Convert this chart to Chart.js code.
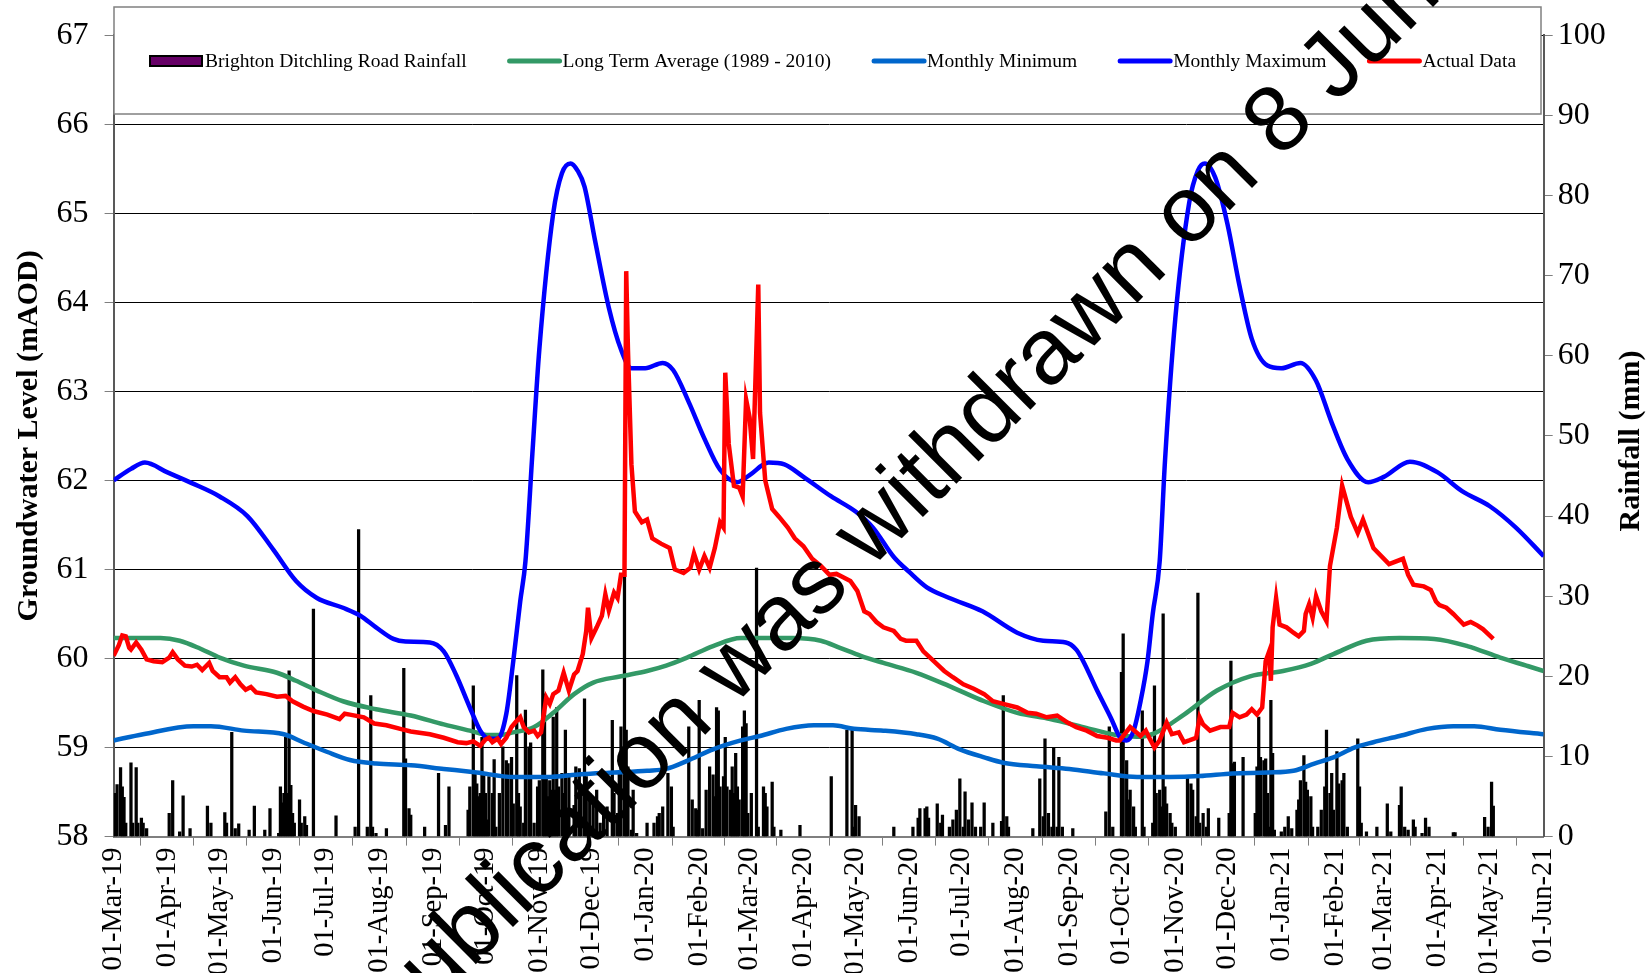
<!DOCTYPE html>
<html>
<head>
<meta charset="utf-8">
<script src="https://cdn.jsdelivr.net/npm/chart.js@4.4.1/dist/chart.umd.min.js"></script>
<style>
  html, body { margin: 0; padding: 0; background: #fff; }
  #wrap { position: relative; width: 1650px; height: 973px; }
</style>
</head>
<body>
<div id="wrap"><canvas id="gwChart"></canvas></div>
<script>
// all x values are days counted from 01-Mar-2019
const START = Date.UTC(2019, 2, 1);

const tickLabels = [
  "01-Mar-19", "01-Apr-19", "01-May-19", "01-Jun-19", "01-Jul-19", "01-Aug-19", "01-Sep-19",
  "01-Oct-19", "01-Nov-19", "01-Dec-19", "01-Jan-20", "01-Feb-20", "01-Mar-20", "01-Apr-20",
  "01-May-20", "01-Jun-20", "01-Jul-20", "01-Aug-20", "01-Sep-20", "01-Oct-20", "01-Nov-20",
  "01-Dec-20", "01-Jan-21", "01-Feb-21", "01-Mar-21", "01-Apr-21", "01-May-21", "01-Jun-21"
];

// Monthly Maximum
const maxDay = [0, 10, 18, 31, 45, 61, 77, 92, 105, 117, 132, 142, 151, 161, 168, 182, 190, 197, 205,
  211, 216, 221, 226, 230, 234, 237, 241, 245, 253, 258, 263, 267, 271, 277, 285, 292, 298, 306, 316,
  322, 331, 340, 349, 359, 366, 377, 386, 397, 413, 427, 437, 449, 458, 468, 481, 500, 520, 535, 548,
  554, 558, 566, 574, 579, 583, 587, 591, 595, 598, 602, 605, 611, 619, 624, 628, 634, 641, 648, 655,
  664, 672, 683, 692, 701, 710, 722, 731, 746, 762, 776, 792, 807, 823];
const maxLevel = [62.0, 62.13, 62.2, 62.09, 61.97, 61.82, 61.6, 61.22, 60.87, 60.68, 60.57, 60.48, 60.35, 60.22, 60.19, 60.18, 60.08, 59.82, 59.45,
  59.19, 59.1, 59.1, 59.38, 59.97, 60.64, 61.09, 62.3, 63.47, 65.0, 65.45, 65.56, 65.48, 65.3, 64.7, 63.94, 63.47, 63.26, 63.26, 63.32,
  63.24, 62.88, 62.47, 62.12, 61.98, 62.06, 62.2, 62.18, 62.04, 61.82, 61.65, 61.47, 61.14, 60.97, 60.8, 60.68, 60.53, 60.29, 60.2, 60.18,
  60.1, 59.97, 59.64, 59.33, 59.12, 59.08, 59.19, 59.52, 59.97, 60.5, 61.09, 62.2, 63.82, 65.12, 65.48, 65.56, 65.4, 64.88, 64.18, 63.59,
  63.29, 63.26, 63.32, 63.12, 62.65, 62.24, 61.98, 62.04, 62.21, 62.09, 61.88, 61.71, 61.47, 61.15];

// Monthly Minimum
const minDay = [0, 17, 46, 56, 75, 98, 109, 123, 136, 151, 171, 190, 209, 230, 249, 269, 288, 307, 318, 330,
  345, 361, 372, 387, 403, 414, 426, 443, 462, 474, 487, 501, 512, 531, 550, 570, 589, 608, 625, 644,
  664, 679, 691, 702, 714, 725, 740, 756, 771, 783, 798, 823];
const minLevel = [59.08, 59.15, 59.24, 59.24, 59.19, 59.15, 59.06, 58.95, 58.86, 58.82, 58.8, 58.76, 58.72, 58.67, 58.67, 58.7, 58.72, 58.74, 58.76, 58.85,
  58.98, 59.08, 59.13, 59.21, 59.25, 59.25, 59.21, 59.19, 59.15, 59.1, 58.98, 58.89, 58.83, 58.79, 58.76, 58.71, 58.67, 58.67, 58.68, 58.71,
  58.72, 58.74, 58.82, 58.89, 59.0, 59.06, 59.13, 59.21, 59.24, 59.24, 59.2, 59.15];

// Long Term Average (1989 - 2010)
const avgDay = [0, 27, 38, 50, 61, 75, 94, 105, 117, 132, 151, 171, 190, 205, 216, 222, 230, 242, 253, 265,
  276, 292, 307, 318, 330, 345, 361, 372, 391, 407, 418, 430, 443, 462, 481, 501, 520, 539, 558, 577,
  589, 599, 616, 635, 654, 673, 689, 702, 721, 740, 760, 779, 798, 813, 823];
const avgLevel = [60.23, 60.23, 60.2, 60.11, 60.01, 59.92, 59.84, 59.75, 59.64, 59.52, 59.43, 59.36, 59.26, 59.19, 59.14, 59.14, 59.17, 59.23, 59.39, 59.6,
  59.73, 59.8, 59.86, 59.92, 60.01, 60.14, 60.23, 60.23, 60.23, 60.2, 60.12, 60.03, 59.95, 59.84, 59.69, 59.52, 59.39, 59.32, 59.23, 59.14,
  59.12, 59.16, 59.37, 59.64, 59.8, 59.86, 59.94, 60.05, 60.2, 60.23, 60.22, 60.14, 60.01, 59.92, 59.86];

// Actual Data
const actualDay = [0, 3, 5, 7, 9, 10, 13, 16, 19, 23, 28, 32, 34, 37, 41, 45, 48, 51, 55, 57,
  61, 65, 67, 70, 73, 76, 79, 82, 88, 94, 99, 103, 109, 115, 123, 130, 133, 136, 144, 150,
  157, 165, 171, 182, 190, 198, 203, 207, 211, 214, 216, 218, 221, 223, 226, 229, 232, 234, 236, 239,
  242, 244, 246, 249, 251, 253, 256, 259, 262, 265, 267, 270, 272, 273, 275, 278, 281, 283, 285, 288,
  290, 292, 294, 295, 296, 298, 300, 304, 307, 310, 315, 320, 323, 328, 332, 334, 337, 340, 343, 346,
  349, 351, 352, 354, 357, 360, 362, 364, 366, 368, 369, 371, 372, 375, 379, 383, 388, 392, 397, 402,
  407, 412, 416, 419, 424, 428, 432, 435, 439, 443, 449, 453, 456, 462, 466, 472, 478, 483, 489, 495,
  501, 506, 512, 520, 526, 531, 537, 543, 549, 554, 560, 566, 572, 577, 579, 585, 591, 594, 596, 599,
  602, 606, 609, 613, 616, 619, 623, 625, 627, 631, 637, 642, 644, 648, 652, 655, 658, 661, 663, 665,
  666, 667, 669, 671, 675, 679, 682, 685, 686, 688, 690, 692, 695, 698, 700, 704, 707, 712, 716, 719,
  725, 734, 742, 745, 748, 754, 758, 761, 763, 767, 771, 773, 777, 781, 785, 788, 794];
const actualLevel = [60.03, 60.15, 60.26, 60.25, 60.12, 60.10, 60.18, 60.10, 59.99, 59.97, 59.96, 60.01, 60.07, 59.99, 59.92, 59.91, 59.93, 59.87, 59.95, 59.86,
  59.79, 59.79, 59.73, 59.79, 59.71, 59.65, 59.68, 59.62, 59.60, 59.57, 59.58, 59.52, 59.46, 59.41, 59.37, 59.32, 59.38, 59.37, 59.34, 59.27,
  59.25, 59.21, 59.18, 59.15, 59.11, 59.06, 59.05, 59.07, 59.02, 59.09, 59.11, 59.06, 59.10, 59.04, 59.11, 59.23, 59.30, 59.34, 59.23, 59.17,
  59.19, 59.13, 59.17, 59.56, 59.49, 59.60, 59.64, 59.84, 59.64, 59.82, 59.86, 60.05, 60.31, 60.57, 60.23, 60.35, 60.48, 60.72, 60.54, 60.74,
  60.68, 60.94, 60.94, 64.35, 63.47, 62.18, 61.65, 61.53, 61.56, 61.35, 61.29, 61.24, 61.0, 60.96, 61.02, 61.18, 61.0, 61.15, 61.02, 61.24,
  61.53, 61.47, 63.21, 62.41, 61.94, 61.92, 61.82, 62.91, 62.71, 62.24, 62.88, 64.2, 62.76, 62.0, 61.68, 61.59, 61.47, 61.35, 61.26, 61.12,
  61.04, 60.94, 60.95, 60.92, 60.87, 60.76, 60.53, 60.50, 60.41, 60.35, 60.31, 60.22, 60.20, 60.20, 60.08, 59.97, 59.86, 59.79, 59.71, 59.66,
  59.60, 59.52, 59.49, 59.45, 59.39, 59.38, 59.34, 59.36, 59.28, 59.23, 59.19, 59.13, 59.11, 59.08, 59.08, 59.23, 59.13, 59.19, 59.11, 59.0,
  59.08, 59.28, 59.15, 59.17, 59.06, 59.08, 59.11, 59.34, 59.26, 59.19, 59.23, 59.23, 59.39, 59.34, 59.37, 59.43, 59.37, 59.45, 59.97, 60.08,
  59.75, 60.35, 60.68, 60.38, 60.35, 60.29, 60.25, 60.31, 60.50, 60.61, 60.46, 60.70, 60.53, 60.42, 61.04, 61.47, 61.94, 61.59, 61.41, 61.56,
  61.24, 61.06, 61.12, 60.94, 60.83, 60.81, 60.77, 60.64, 60.60, 60.57, 60.50, 60.46, 60.38, 60.41, 60.37, 60.33, 60.22];

// Brighton Ditchling Road Rainfall (mm), rain days only
const rainDay = [1, 2, 4, 5, 6, 7, 10, 11, 13, 14, 16, 17, 19, 32, 34, 38, 40, 44, 54, 56,
  64, 65, 68, 70, 72, 78, 81, 87, 90, 95, 96, 97, 98, 99, 100, 101, 102, 103, 104, 107,
  108, 110, 111, 115, 128, 139, 141, 146, 148, 149, 151, 157, 167, 168, 170, 171, 179, 187, 191, 193,
  204, 205, 207, 208, 209, 210, 211, 212, 213, 214, 215, 216, 218, 219, 220, 222, 224, 226, 227, 229,
  230, 232, 233, 234, 236, 237, 239, 240, 242, 244, 245, 247, 248, 249, 250, 251, 252, 253, 254, 255,
  256, 258, 259, 260, 261, 262, 265, 266, 268, 269, 271, 272, 274, 276, 278, 280, 282, 284, 287, 288,
  290, 291, 292, 294, 295, 296, 298, 299, 301, 307, 311, 313, 314, 316, 319, 321, 322, 331, 333, 335,
  336, 337, 339, 341, 343, 345, 346, 347, 348, 349, 351, 352, 353, 355, 356, 357, 358, 359, 360, 362,
  363, 364, 365, 367, 370, 371, 374, 375, 376, 379, 380, 384, 395, 413, 422, 425, 426, 427, 429, 449,
  460, 463, 464, 467, 468, 469, 474, 476, 477, 481, 483, 485, 487, 489, 490, 492, 494, 496, 499, 501,
  506, 511, 512, 514, 515, 529, 533, 535, 536, 538, 540, 541, 543, 544, 546, 552, 571, 573, 575, 580,
  581, 583, 584, 585, 587, 588, 592, 593, 598, 599, 600, 602, 603, 604, 605, 606, 608, 609, 611, 618,
  620, 621, 623, 624, 625, 627, 629, 630, 636, 642, 643, 644, 645, 650, 657, 658, 659, 660, 662, 663,
  664, 665, 666, 667, 668, 672, 674, 676, 678, 681, 682, 683, 685, 686, 687, 689, 690, 693, 695, 697,
  698, 700, 701, 702, 704, 705, 707, 708, 710, 716, 717, 718, 721, 727, 733, 735, 740, 741, 743, 745,
  748, 749, 753, 755, 757, 771, 772, 789, 791, 793, 794];
const rainMm = [5.4, 6.5, 8.6, 6.2, 4.9, 1.7, 9.2, 1.7, 8.6, 1.7, 2.3, 1.7, 1.0, 2.9, 7.0, 0.6, 5.1, 1.0, 3.8, 1.7,
  3.0, 1.7, 13.0, 1.0, 1.6, 0.8, 3.8, 0.8, 3.5, 0.4, 6.2, 4.2, 5.4, 12.4, 5.4, 20.7, 6.4, 2.9, 1.7, 4.6,
  1.7, 2.5, 1.4, 28.4, 2.6, 1.2, 38.3, 1.2, 17.6, 1.2, 0.4, 1.0, 21.0, 9.7, 3.5, 2.7, 1.2, 7.9, 1.4, 6.2,
  3.3, 6.2, 18.8, 7.9, 6.6, 5.0, 5.4, 12.4, 7.9, 5.4, 2.1, 7.5, 5.4, 9.6, 1.2, 5.4, 11.2, 9.5, 9.1, 9.9,
  4.1, 20.1, 5.4, 3.7, 1.7, 15.8, 11.2, 11.7, 1.7, 6.2, 7.0, 20.8, 17.8, 7.5, 5.0, 7.0, 5.8, 14.9, 5.8, 16.1,
  6.2, 7.9, 5.4, 13.3, 2.9, 7.9, 3.9, 8.7, 8.5, 5.4, 17.2, 7.5, 5.4, 4.1, 5.8, 1.7, 2.9, 3.7, 14.5, 5.4,
  2.9, 7.9, 13.7, 32.7, 13.3, 8.7, 0.8, 5.8, 0.4, 1.7, 1.7, 2.5, 2.9, 3.7, 7.9, 6.2, 1.2, 13.7, 4.6, 3.5,
  3.3, 17.0, 1.0, 5.8, 8.7, 7.7, 5.0, 16.1, 15.7, 6.2, 7.5, 12.4, 6.2, 5.8, 8.7, 5.4, 10.4, 6.2, 4.6, 13.7,
  15.7, 14.1, 2.9, 5.4, 33.5, 1.2, 6.2, 5.4, 3.7, 6.8, 1.2, 0.8, 1.4, 7.5, 13.3, 13.3, 1.2, 3.9, 2.5, 1.2,
  1.2, 2.3, 3.5, 3.5, 3.7, 2.3, 4.1, 1.7, 2.7, 1.2, 2.1, 3.3, 7.2, 1.2, 5.6, 2.1, 4.2, 1.2, 1.2, 4.2,
  1.7, 1.9, 17.6, 2.5, 1.2, 1.0, 7.2, 2.5, 12.2, 2.9, 1.2, 11.0, 1.2, 9.9, 1.2, 1.0, 3.1, 13.7, 1.2, 20.5,
  25.3, 9.5, 4.6, 5.8, 3.7, 1.2, 15.7, 1.2, 1.7, 18.8, 5.4, 5.8, 3.7, 27.8, 6.2, 4.1, 2.9, 1.7, 1.2, 7.5,
  6.6, 5.8, 2.5, 30.4, 1.7, 2.9, 1.2, 3.5, 2.3, 2.9, 21.9, 9.1, 9.3, 9.9, 2.9, 8.7, 14.9, 9.9, 9.5, 9.7,
  5.4, 1.2, 17.0, 10.4, 0.8, 0.6, 1.2, 2.5, 1.0, 3.3, 4.6, 7.0, 10.1, 6.8, 5.8, 5.0, 1.2, 1.2, 3.3, 6.2,
  13.3, 5.4, 7.9, 3.3, 10.6, 6.6, 7.0, 7.9, 1.2, 12.2, 6.2, 1.7, 0.6, 1.2, 4.1, 0.6, 3.9, 6.2, 1.2, 0.8,
  2.1, 1.2, 0.4, 2.3, 1.2, 0.5, 0.5, 2.4, 1.2, 6.8, 3.8];

const MONTHS = ["Jan", "Feb", "Mar", "Apr", "May", "Jun", "Jul", "Aug", "Sep", "Oct", "Nov", "Dec"];
function labelToDay(lbl) {
  const p = lbl.split("-");
  const t = Date.UTC(2000 + Number(p[2]), MONTHS.indexOf(p[1]), Number(p[0]));
  return Math.round((t - START) / 86400000);
}
const tickDays = tickLabels.map(labelToDay);
const pts = (xs, ys) => xs.map((x, i) => ({ x: x, y: ys[i] }));

const SERIF = '"Liberation Serif", "Times New Roman", serif';

// legend drawn as a framed box across the top of the plot, like the original
const legendBox = {
  id: "legendBox",
  afterDatasetsDraw(chart) {
    const ctx = chart.ctx;
    ctx.save();
    ctx.fillStyle = "#fff";
    ctx.strokeStyle = "#808080";
    ctx.lineWidth = 1.5;
    ctx.fillRect(114, 7, 1427, 107);
    ctx.strokeRect(114, 7, 1427, 107);
    ctx.font = "19.5px " + SERIF;
    ctx.textBaseline = "middle";
    let x = 150;
    const y = 61;
    chart.data.datasets.forEach(ds => {
      if (ds.type === "bar") {
        // the thin bars read as black, the legend key shows their purple fill
        ctx.fillStyle = ds.legendFill;
        ctx.fillRect(x, y - 5, 52, 10);
        ctx.strokeStyle = "#000";
        ctx.lineWidth = 2;
        ctx.strokeRect(x, y - 5, 52, 10);
      } else {
        ctx.strokeStyle = ds.borderColor;
        ctx.lineWidth = 5;
        ctx.lineCap = "round";
        ctx.beginPath();
        ctx.moveTo(x + 2, y);
        ctx.lineTo(x + 52, y);
        ctx.stroke();
      }
      x += 55;
      ctx.fillStyle = "#000";
      ctx.fillText(ds.label, x, y + 1);
      x += ctx.measureText(ds.label).width + 41;
    });
    ctx.restore();
  },
  afterDraw(chart) {
    const ctx = chart.ctx;
    ctx.save();
    // right-hand axis title, reading bottom to top
    ctx.font = "bold 30px " + SERIF;
    ctx.fillStyle = "#000";
    ctx.textAlign = "center";
    ctx.textBaseline = "middle";
    ctx.translate(1631, 441);
    ctx.rotate(-Math.PI / 2);
    ctx.fillText("Rainfall (mm)", 0, 0);
    ctx.restore();

    // withdrawn stamp over the whole figure
    ctx.save();
    ctx.font = '94px "Liberation Sans", Arial, sans-serif';
    ctx.fillStyle = "#000";
    ctx.textAlign = "center";
    ctx.textBaseline = "alphabetic";
    ctx.translate(950, 490);
    ctx.rotate(-Math.PI / 4);
    ctx.fillText("This publication was withdrawn on 8 June 2021", 0, 0);
    ctx.restore();
  }
};

new Chart(document.getElementById("gwChart"), {
  type: "bar",
  data: {
    datasets: [
      {
        type: "bar",
        label: "Brighton Ditchling Road Rainfall",
        data: pts(rainDay, rainMm),
        yAxisID: "y2",
        backgroundColor: "#000",
        legendFill: "#660066",
        borderWidth: 0,
        barThickness: 2.6,
        order: 10
      },
      {
        type: "line",
        label: "Long Term Average (1989 - 2010)",
        data: pts(avgDay, avgLevel),
        yAxisID: "y",
        borderColor: "#339966",
        borderWidth: 4.5,
        pointRadius: 0,
        cubicInterpolationMode: "monotone",
        order: 4
      },
      {
        type: "line",
        label: "Monthly Minimum",
        data: pts(minDay, minLevel),
        yAxisID: "y",
        borderColor: "#0066CC",
        borderWidth: 4.5,
        pointRadius: 0,
        cubicInterpolationMode: "monotone",
        order: 3
      },
      {
        type: "line",
        label: "Monthly Maximum",
        data: pts(maxDay, maxLevel),
        yAxisID: "y",
        borderColor: "#0000FF",
        borderWidth: 4.5,
        pointRadius: 0,
        cubicInterpolationMode: "monotone",
        order: 2
      },
      {
        type: "line",
        label: "Actual Data",
        data: pts(actualDay, actualLevel),
        yAxisID: "y",
        borderColor: "#FF0000",
        borderWidth: 4.5,
        pointRadius: 0,
        tension: 0,
        order: 1
      }
    ]
  },
  options: {
    responsive: true,
    maintainAspectRatio: false,
    animation: false,
    layout: { padding: { top: 31.6, left: 0, right: 0, bottom: 0 } },
    plugins: {
      legend: { display: false },
      tooltip: { enabled: false }
    },
    scales: {
      x: {
        type: "linear",
        min: 0,
        max: 823,
        offset: false,
        afterBuildTicks: (scale) => { scale.ticks = tickDays.map(v => ({ value: v })); },
        afterFit: (scale) => { scale.height = 136.4; },
        ticks: {
          autoSkip: false,
          minRotation: 90,
          maxRotation: 90,
          padding: 2,
          color: "#000",
          font: { family: SERIF, size: 28.5 },
          callback: (v) => tickLabels[tickDays.indexOf(v)]
        },
        grid: { drawOnChartArea: false, tickLength: 9, color: "#7f7f7f" },
        border: { color: "#7f7f7f", width: 2 }
      },
      y: {
        position: "left",
        min: 58,
        max: 67,
        afterFit: (scale) => { scale.width = 113.6; },
        ticks: {
          stepSize: 1,
          padding: 16,
          color: "#000",
          font: { family: SERIF, size: 32 }
        },
        grid: { color: "#000", lineWidth: 1, tickColor: "#7f7f7f", tickLength: 9 },
        border: { color: "#595959", width: 2 },
        title: {
          display: true,
          text: "Groundwater Level (mAOD)",
          color: "#000",
          padding: { top: 11, bottom: 0 },
          font: { family: SERIF, size: 30, weight: "bold" }
        }
      },
      y2: {
        position: "right",
        min: 0,
        max: 100,
        afterFit: (scale) => { scale.width = 106.3; },
        ticks: {
          stepSize: 10,
          padding: 5,
          color: "#000",
          font: { family: SERIF, size: 32 }
        },
        grid: { drawOnChartArea: false, tickColor: "#7f7f7f", tickLength: 9 },
        border: { color: "#595959", width: 2 }
      }
    }
  },
  plugins: [legendBox]
});
</script>
</body>
</html>
